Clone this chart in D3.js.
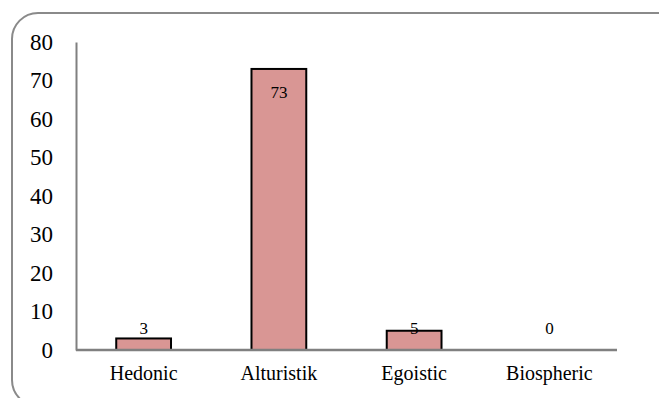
<!DOCTYPE html>
<html>
<head>
<meta charset="utf-8">
<script src="https://cdn.jsdelivr.net/npm/d3@7"></script>
<style>
  html, body { margin: 0; padding: 0; background: #fff; }
  svg { display: block; }
  svg text { font-family: "Liberation Serif", "DejaVu Serif", serif; }
</style>
</head>
<body>
<div id="chart"></div>
<script>
// Value orientation counts per category
const categories = ["Hedonic", "Alturistik", "Egoistic", "Biospheric"];
const counts = [3, 73, 5, 0];
const yTicks = [0, 10, 20, 30, 40, 50, 60, 70, 80];

const W = 659, H = 398;
const margin = { left: 76, right: 42, top: 42, bottom: 48 };

const svg = d3.select("#chart").append("svg")
  .attr("width", W).attr("height", H);

// Rounded outer frame (runs off the right and bottom edges)
svg.append("rect")
  .attr("x", 12).attr("y", 13)
  .attr("width", 680).attr("height", 393)
  .attr("rx", 26).attr("ry", 26)
  .attr("fill", "none")
  .attr("stroke", "#8a8a8a")
  .attr("stroke-width", 2);

const x = d3.scaleBand()
  .domain(categories)
  .range([margin.left, W - margin.right])
  .paddingInner(0.595)
  .paddingOuter(0.2975);

const y = d3.scaleLinear()
  .domain([0, 80])
  .range([H - margin.bottom, margin.top]);

// Bars
svg.append("g").selectAll("rect")
  .data(categories)
  .join("rect")
  .attr("x", d => x(d))
  .attr("y", (d, i) => y(counts[i]))
  .attr("width", x.bandwidth())
  .attr("height", (d, i) => y(0) - y(counts[i]))
  .attr("fill", "#d99694")
  .attr("stroke", (d, i) => counts[i] > 0 ? "#000" : "none")
  .attr("stroke-width", 2);

// Y axis
const yAxis = svg.append("g")
  .attr("transform", `translate(${margin.left},0)`)
  .call(d3.axisLeft(y).tickValues(yTicks).tickSize(0).tickPadding(23));
yAxis.attr("font-family", null);
yAxis.select(".domain").attr("stroke", "#808080").attr("stroke-width", 2);
yAxis.selectAll("text")
  .style("font-size", "23px").attr("fill", "#000");

// X axis
const xAxis = svg.append("g")
  .attr("transform", `translate(0,${y(0)})`)
  .call(d3.axisBottom(x).tickSize(0).tickPadding(16));
xAxis.attr("font-family", null);
xAxis.select(".domain")
  .attr("d", `M${margin.left},0H${W - margin.right}`)
  .attr("stroke", "#808080").attr("stroke-width", 2.5);
xAxis.selectAll("text")
  .style("font-size", "20px").attr("fill", "#000");

// Value labels: inside the top of tall bars, just above the axis for short ones
svg.append("g").selectAll("text")
  .data(categories)
  .join("text")
  .attr("x", d => x(d) + x.bandwidth() / 2)
  .attr("y", (d, i) => counts[i] > 40 ? y(counts[i]) + 29.5 : y(0) - 16)
  .attr("text-anchor", "middle")
  .style("font-size", "17px")
  .attr("fill", "#000")
  .text((d, i) => counts[i]);
</script>
</body>
</html>
